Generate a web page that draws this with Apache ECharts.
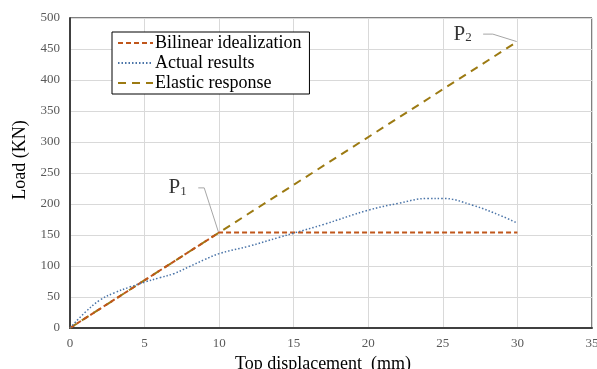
<!DOCTYPE html>
<html><head><meta charset="utf-8">
<script src="https://cdn.jsdelivr.net/npm/echarts@6/dist/echarts.min.js"></script>
<style>html,body{margin:0;padding:0;background:#fff}#c{width:597px;height:369px}</style>
</head><body><div id="c"></div>
<script>
const xTicks = [0,5,10,15,20,25,30,35];
const yTicks = [0,50,100,150,200,250,300,350,400,450,500];
const bilinearX = [0,10,30];
const bilinearY = [0,154,154];
const elasticX = [0,30];
const elasticY = [0,462];
const actualX = [0,1,2,3,4,5,6,7,8,9,10,12,14,15,17,20,22,24,25,27,29,30];
const actualY = [0,25,45,57,66,74,81,88,99,110,120,132,146,153,167,190,201,209,209,198,180,169];
const p1Leader = [[8.6,226],[9.0,226],[9.95,155]];
const p2Leader = [[27.7,474],[28.35,474],[29.95,462]];

const zip = (xs, ys) => xs.map((x,i)=>[x, ys[i]]);
const font = 'Liberation Serif, Times New Roman, serif';
const pLabel = (sub) => ({show:true, position:'left', distance:11, color:'#000',
  formatter:'{a|P}{b|'+sub+'}',
  rich:{a:{fontFamily:font, fontSize:21, color:'#000'}, b:{fontFamily:font, fontSize:13, color:'#000', padding:[7,0,0,0]}}});
const chart = echarts.init(document.getElementById('c'));
chart.setOption({
  animation:false,
  textStyle:{fontFamily:font},
  grid:{left:70, right:5, top:18, bottom:41, show:true, borderColor:'#000', borderWidth:1, containLabel:false, outerBoundsMode:'none'},
  legend:{
    orient:'vertical', left:112, top:32,
    data:[{name:'Bilinear idealization', itemStyle:{opacity:0}},{name:'Actual results', itemStyle:{opacity:0}},{name:'Elastic response', itemStyle:{opacity:0}}],
    itemWidth:35, itemHeight:18, itemGap:2, padding:[2,8,2,5],
    borderColor:'#000', borderWidth:1, backgroundColor:'#fff',
    textStyle:{fontFamily:font, fontSize:18, color:'#000', padding:[0,0,0,-3]}
  },
  xAxis:{type:'value', min:0, max:35, interval:5,
    name:'Top displacement  (mm)', nameLocation:'middle', nameGap:24,
    nameTextStyle:{fontFamily:font, fontSize:18, color:'#000', padding:[0,16,0,0]},
    axisLine:{show:true, lineStyle:{color:'#404040', width:2}}, axisTick:{show:false},
    axisLabel:{fontFamily:font, fontSize:13, color:'#595959', margin:9},
    splitLine:{lineStyle:{color:'#d9d9d9', width:1}}},
  yAxis:{type:'value', min:0, max:500, interval:50,
    name:'Load (KN)', nameLocation:'middle', nameGap:41,
    nameTextStyle:{fontFamily:font, fontSize:18, color:'#000', padding:[0,0,0,26]},
    axisLine:{show:true, lineStyle:{color:'#404040', width:2}}, axisTick:{show:false},
    axisLabel:{fontFamily:font, fontSize:13, color:'#595959', margin:10},
    splitLine:{lineStyle:{color:'#d9d9d9', width:1}}},
  series:[
    {name:'Elastic response', type:'line', data:zip(elasticX, elasticY), symbol:'none',
      lineStyle:{color:'#9c7a12', width:2, type:[8,6]}, itemStyle:{color:'#9c7a12'}, z:3},
    {name:'Bilinear idealization', type:'line', data:zip(bilinearX, bilinearY), symbol:'none',
      lineStyle:{color:'#c0561b', width:2, type:[5,3]}, itemStyle:{color:'#c0561b'}, z:4},
    {name:'Actual results', type:'line', data:zip(actualX, actualY), symbol:'none', smooth:0.4,
      lineStyle:{color:'#4a74a8', width:1.5, type:[1.5,2]}, itemStyle:{color:'#4a74a8'}, z:5},
    {name:'p1', type:'line', data:p1Leader, symbol:'none', silent:true,
      lineStyle:{color:'#a6a6a6', width:1}, z:2},
    {name:'p2', type:'line', data:p2Leader, symbol:'none', silent:true,
      lineStyle:{color:'#a6a6a6', width:1}, z:2},
    {name:'labels', type:'scatter', silent:true, symbol:'circle', symbolSize:1,
      itemStyle:{color:'rgba(0,0,0,0)'}, z:6,
      data:[{value:p1Leader[0], label:pLabel('1')},{value:p2Leader[0], label:pLabel('2')}]}
  ]
});
</script></body></html>
